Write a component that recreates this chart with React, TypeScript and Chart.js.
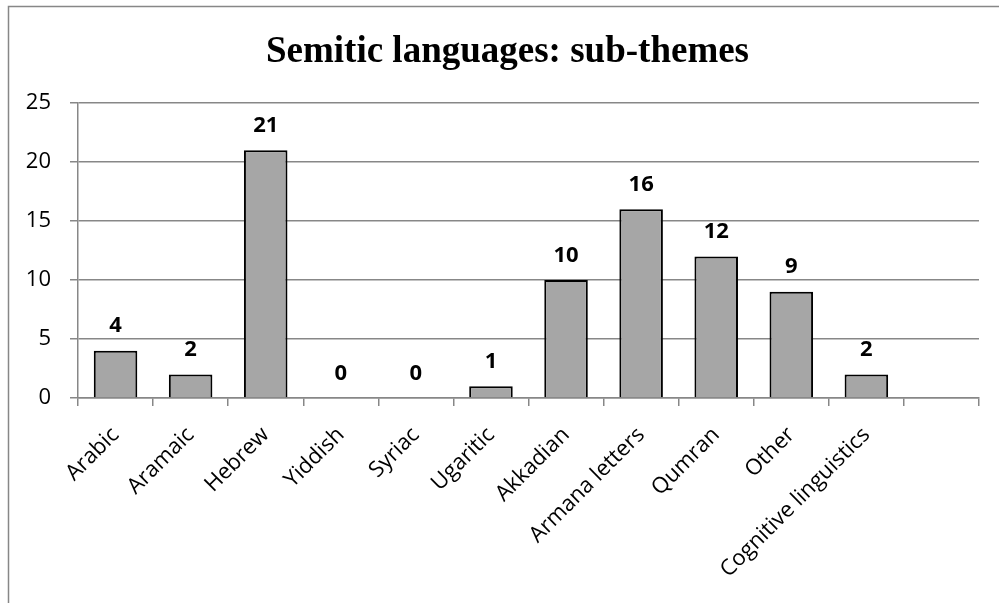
import { useEffect, useRef } from "react";
import { Chart, registerables } from "chart.js";

Chart.register(...registerables);

const chartTitle = "Semitic languages: sub-themes";
const categories = [
  "Arabic",
  "Aramaic",
  "Hebrew",
  "Yiddish",
  "Syriac",
  "Ugaritic",
  "Akkadian",
  "Armana letters",
  "Qumran",
  "Other",
  "Cognitive linguistics",
  "",
];
const counts: (number | null)[] = [4, 2, 21, 0, 0, 1, 10, 16, 12, 9, 2, null];
const yMin = 0;
const yMax = 25;
const yStep = 5;

const GRID = "#878787";

const framePlugin = {
  id: "frame",
  beforeDraw(chart: any) {
    const ctx = chart.ctx;
    ctx.save();
    ctx.fillStyle = "#ffffff";
    ctx.fillRect(0, 0, chart.width, chart.height);
    ctx.strokeStyle = GRID;
    ctx.lineWidth = 1.5;
    ctx.beginPath();
    ctx.moveTo(8.5, chart.height);
    ctx.lineTo(8.5, 6.5);
    ctx.lineTo(chart.width, 6.5);
    ctx.stroke();
    ctx.restore();
  },
};

const titlePlugin = {
  id: "centeredTitle",
  afterDraw(chart: any) {
    const ctx = chart.ctx;
    ctx.save();
    ctx.fillStyle = "#000";
    ctx.font = 'bold 37px "Liberation Serif", "Times New Roman", serif';
    ctx.textAlign = "center";
    ctx.textBaseline = "alphabetic";
    ctx.fillText(chartTitle, 507.5, 62);
    ctx.restore();
  },
};

const valueLabelPlugin = {
  id: "valueLabels",
  afterDatasetsDraw(chart: any) {
    const ctx = chart.ctx;
    const meta = chart.getDatasetMeta(0);
    const data = chart.data.datasets[0].data;
    ctx.save();
    ctx.fillStyle = "#000";
    ctx.font = 'bold 22px "Open Sans", sans-serif';
    ctx.textAlign = "center";
    ctx.textBaseline = "alphabetic";
    meta.data.forEach((bar: any, i: number) => {
      const v = data[i];
      if (v === null || v === undefined) return;
      ctx.fillText(String(v), bar.x, bar.y - 18.5);
    });
    ctx.restore();
  },
};

export default function App() {
  const canvasRef = useRef<HTMLCanvasElement | null>(null);

  useEffect(() => {
    if (!canvasRef.current) return;
    const chart = new Chart(canvasRef.current, {
      type: "bar",
      data: {
        labels: categories,
        datasets: [
          {
            data: counts,
            backgroundColor: "#a6a6a6",
            borderColor: "#000000",
            borderWidth: 2,
            categoryPercentage: 0.58,
            barPercentage: 1,
          },
        ],
      },
      options: {
        animation: false,
        responsive: false,
        maintainAspectRatio: false,
        devicePixelRatio: 1,
        layout: { padding: { left: 8, right: 20, top: 103, bottom: 0 } },
        plugins: {
          legend: { display: false },
          title: { display: false },
          tooltip: { enabled: false },
        },
        scales: {
          x: {
            type: "category",
            offset: true,
            grid: {
              offset: true,
              drawOnChartArea: false,
              drawTicks: true,
              tickLength: 8,
              color: GRID,
              lineWidth: 1.5,
            },
            border: { display: true, color: GRID, width: 1.5 },
            ticks: {
              minRotation: 45,
              maxRotation: 45,
              autoSkip: false,
              color: "#000",
              padding: 23,
              font: { family: '"Open Sans", sans-serif', size: 22, lineHeight: 0.3 },
            },
            afterFit: (s: any) => {
              s.height = 205;
            },
          },
          y: {
            min: yMin,
            max: yMax,
            ticks: {
              stepSize: yStep,
              color: "#000",
              padding: 19,
              font: { family: '"Open Sans", sans-serif', size: 22 },
            },
            grid: {
              color: GRID,
              lineWidth: 1.5,
              tickLength: 8,
              drawTicks: true,
            },
            border: { display: true, color: GRID, width: 1.5 },
            afterFit: (s: any) => {
              s.width = 70;
            },
          },
        },
      },
      plugins: [framePlugin, valueLabelPlugin, titlePlugin],
    });
    return () => chart.destroy();
  }, []);

  return (
    <div style={{ position: "absolute", left: 0, top: 0, width: 999, height: 603, overflow: "hidden" }}>
      <canvas ref={canvasRef} width={999} height={603} style={{ display: "block" }} />
    </div>
  );
}
